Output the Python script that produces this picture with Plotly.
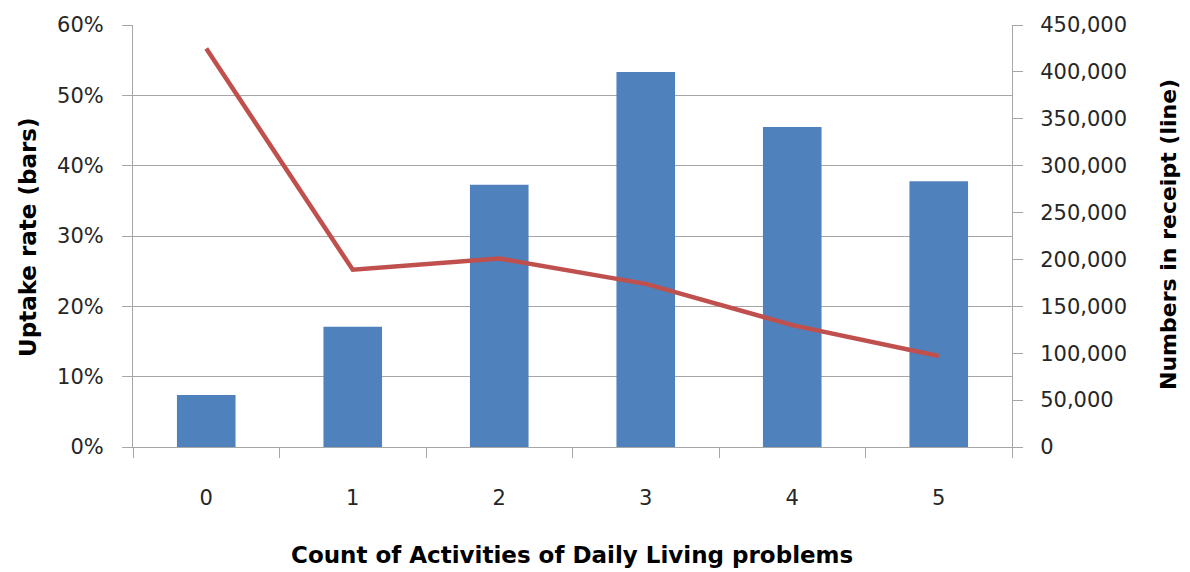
import plotly.graph_objects as go

categories = ["0", "1", "2", "3", "4", "5"]
uptake_rate = [0.074, 0.171, 0.373, 0.533, 0.455, 0.378]
numbers_in_receipt = [425000, 189000, 201000, 174000, 130000, 97000]

FONT = "DejaVu Sans"
GRID = "#A6A6A6"

# page body has an 8px default margin, so the figure is drawn at (8, 8)
fig = go.Figure()
fig.add_trace(go.Bar(x=categories, y=uptake_rate, marker=dict(color="#4F81BD", line=dict(width=0)),
                     width=0.4, yaxis="y", showlegend=False))
fig.add_trace(go.Scatter(x=categories, y=numbers_in_receipt, mode="lines",
                         line=dict(color="#C0504D", width=4.5), yaxis="y2", showlegend=False))

fig.update_layout(
    width=1182, height=564,
    margin=dict(l=125, r=178, t=17, b=125, autoexpand=False),
    plot_bgcolor="white", paper_bgcolor="white",
    font=dict(family=FONT, size=21, color="#262626"),
    xaxis=dict(type="category", tickson="boundaries", ticks="outside", ticklen=10,
               tickcolor=GRID, showline=True, linecolor=GRID, linewidth=1, automargin=False,
               showgrid=False, tickfont=dict(size=21), ticklabelstandoff=32),
    yaxis=dict(range=[0, 0.6], dtick=0.1, tickformat=".0%", showgrid=True, gridcolor=GRID,
               gridwidth=1, showline=True, linecolor=GRID, ticks="outside", ticklen=10,
               tickcolor=GRID, zeroline=False, ticklabelstandoff=14, automargin=False),
    yaxis2=dict(range=[0, 450000], dtick=50000, tickformat=",", overlaying="y", side="right",
                showgrid=False, showline=True, linecolor=GRID, ticks="outside", ticklen=10,
                tickcolor=GRID, zeroline=False, ticklabelstandoff=13, automargin=False),
    annotations=[
        dict(text="<b>Uptake rate (bars)</b>", xref="paper", yref="paper",
             x=(28 - 133) / 879, y=(447 - 238) / 422, xanchor="center", yanchor="middle",
             textangle=-90, showarrow=False, font=dict(size=23, color="black")),
        dict(text="<b>Numbers in receipt (line)</b>", xref="paper", yref="paper",
             x=(1168 - 133) / 879, y=(447 - 235) / 422, xanchor="center", yanchor="middle",
             textangle=-90, showarrow=False, font=dict(size=22, color="black")),
        dict(text="<b>Count of Activities of Daily Living problems</b>", xref="paper", yref="paper",
             x=(572 - 133) / 879, y=(447 - 555) / 422, xanchor="center", yanchor="middle",
             showarrow=False, font=dict(size=23, color="black")),
    ],
)

fig.write_html("out.html")
